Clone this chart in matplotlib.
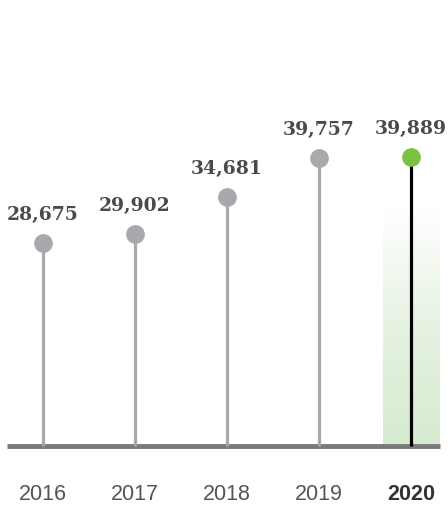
import numpy as np
import matplotlib.pyplot as plt
from matplotlib.colors import LinearSegmentedColormap

years = ["2016", "2017", "2018", "2019", "2020"]
values = [28675, 29902, 34681, 39757, 39889]

GREY = "#a9a9ad"
GREEN = "#7cc242"
BASE = 2200  # where the baseline sits, in value units

fig = plt.figure(figsize=(4.48, 5.07), dpi=100)
ax = fig.add_axes([0, 0, 1, 1])
ax.set_xlim(-0.467, 4.402)
ax.set_ylim(-5737, 60365)
ax.axis("off")

x = np.arange(len(years))
last = len(years) - 1

# soft green band behind the latest year
cmap = LinearSegmentedColormap.from_list("band", ["#ffffff", "#e6f2e2", "#d6ebd0"])
grad = np.linspace(0, 1, 100).reshape(-1, 1)
ax.imshow(grad, cmap=cmap, aspect="auto", origin="upper",
          extent=[last - 0.305, last + 0.305, BASE, 33400], zorder=0)

for i, v in enumerate(values):
    is_last = i == last
    ax.plot([x[i], x[i]], [BASE, v], color="black" if is_last else GREY,
            lw=2.3, zorder=2, solid_capstyle="butt")
    ax.plot(x[i], v, "o", ms=13.5, color=GREEN if is_last else GREY,
            mec="none", zorder=3)
    ax.text(x[i], v + 3650, f"{v:,}", ha="center", va="center",
            family="DejaVu Serif", fontweight="bold", fontsize=13.5,
            color="#4a4a4a")
    ax.text(x[i], -4100, years[i], ha="center", va="center",
            family="Liberation Sans", fontsize=15.5,
            fontweight="bold" if is_last else "normal",
            color="#333333" if is_last else "#555555")

ax.plot([-0.39, 4.317], [BASE, BASE], color="#7a7a7a", lw=3.5, zorder=1,
        solid_capstyle="butt")

fig.savefig("out.png", dpi=100)
